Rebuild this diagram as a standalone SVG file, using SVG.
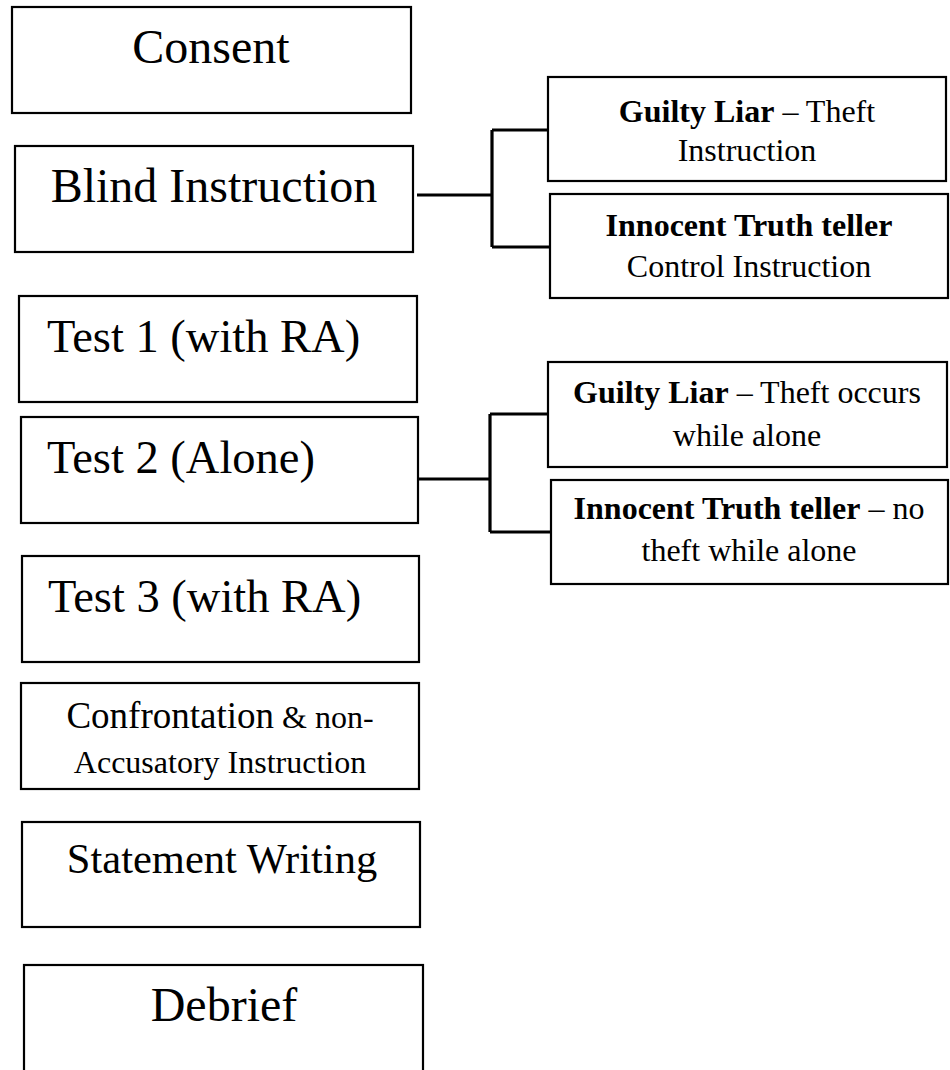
<svg xmlns="http://www.w3.org/2000/svg" width="950" height="1070" viewBox="0 0 950 1070">
<style>
.box{fill:#fff;stroke:#000;stroke-width:2.2}
.conn{fill:none;stroke:#000;stroke-width:3.2}
text{font-family:"Liberation Serif","Times New Roman",serif;fill:#000}
.big{font-size:48px}
.mid{font-size:46.5px}
.sm{font-size:32px}
.c{text-anchor:middle}
.b{font-weight:bold}
</style>
<rect width="950" height="1070" fill="#fff"/>
<g id="connectors">
<path class="conn" d="M417,195 H492 M492,130 V247 M492,130 H548 M492,247 H550"/>
<path class="conn" d="M416,479 H490 M490,414 V532 M490,414 H548 M490,532 H551"/>
</g>
<g id="consent">
<rect class="box" x="12" y="7" width="399" height="106"/>
<text class="big c" x="211" y="63">Consent</text>
</g>
<g id="blind">
<rect class="box" x="15" y="146" width="398" height="106"/>
<text class="big c" x="214" y="202">Blind Instruction</text>
</g>
<g id="guilty1">
<rect class="box" x="548" y="77" width="398" height="104"/>
<text class="sm c" x="747" y="122"><tspan class="b">Guilty Liar</tspan> – Theft</text>
<text class="sm c" x="747" y="161">Instruction</text>
</g>
<g id="innocent1">
<rect class="box" x="550" y="194" width="398" height="104"/>
<text class="sm c" x="749" y="236"><tspan class="b">Innocent Truth teller</tspan></text>
<text class="sm c" x="749" y="277">Control Instruction</text>
</g>
<g id="test1">
<rect class="box" x="19" y="296" width="398" height="106"/>
<text class="mid" x="47" y="352">Test 1 (with RA)</text>
</g>
<g id="test2">
<rect class="box" x="21" y="417" width="397" height="106"/>
<text class="mid" x="47" y="473">Test 2 (Alone)</text>
</g>
<g id="guilty2">
<rect class="box" x="548" y="362" width="399" height="105"/>
<text class="sm c" x="747" y="403"><tspan class="b">Guilty Liar</tspan> – Theft occurs</text>
<text class="sm c" x="747" y="446">while alone</text>
</g>
<g id="innocent2">
<rect class="box" x="551" y="480" width="397" height="104"/>
<text class="sm c" x="749" y="519"><tspan class="b">Innocent Truth teller</tspan> – no</text>
<text class="sm c" x="749" y="561">theft while alone</text>
</g>
<g id="test3">
<rect class="box" x="22" y="556" width="397" height="106"/>
<text class="mid" x="48" y="612">Test 3 (with RA)</text>
</g>
<g id="confrontation">
<rect class="box" x="21" y="683" width="398" height="106"/>
<text class="c" x="220" y="728"><tspan style="font-size:37px">Confrontation</tspan><tspan style="font-size:32px"> &amp; non-</tspan></text>
<text class="sm c" x="220" y="773">Accusatory Instruction</text>
</g>
<g id="statement">
<rect class="box" x="22" y="822" width="398" height="105"/>
<text class="c" style="font-size:42.5px" x="222" y="873">Statement Writing</text>
</g>
<g id="debrief">
<rect class="box" x="24" y="965" width="399" height="112"/>
<text class="big c" x="224" y="1021">Debrief</text>
</g>
</svg>
